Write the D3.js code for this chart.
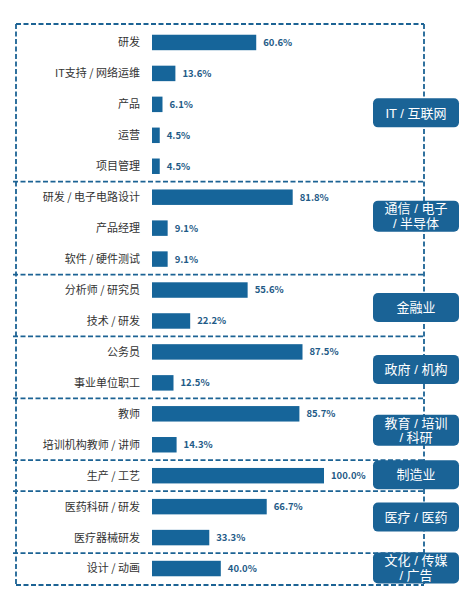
<!DOCTYPE html>
<meta charset="utf-8">
<style>
body {
  margin: 0;
  background: #fff;
  font-family: "Noto Sans CJK SC", sans-serif;
}
.frame line {
  stroke: #1c6394;
  stroke-width: 1.8;
  stroke-dasharray: 5,2.5;
}
.boxlabel {
  font-family: "Liberation Sans", "Noto Sans CJK SC", sans-serif;
}
</style>
<svg width="460" height="598"></svg>
<script src="https://d3js.org/d3.v7.min.js"></script>
<script>
// data
var roles = ["研发", "IT支持 / 网络运维", "产品", "运营", "项目管理",
             "研发 / 电子电路设计", "产品经理", "软件 / 硬件测试",
             "分析师 / 研究员", "技术 / 研发",
             "公务员", "事业单位职工",
             "教师", "培训机构教师 / 讲师",
             "生产 / 工艺",
             "医药科研 / 研发", "医疗器械研发",
             "设计 / 动画"];
var values = [60.6, 13.6, 6.1, 4.5, 4.5,
              81.8, 9.1, 9.1,
              55.6, 22.2,
              87.5, 12.5,
              85.7, 14.3,
              100.0,
              66.7, 33.3,
              40.0];
var roleGroup = [0, 0, 0, 0, 0, 1, 1, 1, 2, 2, 3, 3, 4, 4, 5, 6, 6, 7];
var groupLines = [["IT / 互联网"],
                  ["通信 / 电子", "/ 半导体"],
                  ["金融业"],
                  ["政府 / 机构"],
                  ["教育 / 培训", "/ 科研"],
                  ["制造业"],
                  ["医疗 / 医药"],
                  ["文化 / 传媒", "/ 广告"]];

// layout
var frameTop = 24, frameBottom = 585, frameLeft = 16, frameRight = 424;
var boxNudge = [10, -12, 2, 2, 1, -1, -5, -1];
var blue = "#16659a";

var svg = d3.select("svg");

var x = d3.scaleLinear()
    .domain([0, 100])
    .range([152, 324]);

var y = d3.scaleBand()
    .domain(roles)
    .range([27, 584])
    .paddingInner(0.5)
    .paddingOuter(0.25);

var step = y.step();

// group boundaries (between bars)
var groupIds = d3.range(groupLines.length);
var bounds = groupIds.map(function(g) {
  var idx = roles.filter(function(r, i) { return roleGroup[i] === g; });
  var first = idx[0], last = idx[idx.length - 1];
  var top = g === 0 ? frameTop : y(first) - step * 0.25;
  var bottom = g === groupIds.length - 1 ? frameBottom : y(last) + y.bandwidth() + step * 0.25;
  return [top, bottom];
});

// dashed frame
var frame = svg.append("g").attr("class", "frame");
frame.append("line")
    .attr("x1", frameLeft).attr("x2", frameLeft)
    .attr("y1", frameTop).attr("y2", frameBottom);
frame.append("line")
    .attr("x1", frameRight).attr("x2", frameRight)
    .attr("y1", frameTop).attr("y2", frameBottom);
frame.append("line")
    .attr("x1", frameLeft).attr("x2", frameRight)
    .attr("y1", frameTop).attr("y2", frameTop);
frame.selectAll(".sep")
    .data(bounds)
  .enter().append("line")
    .attr("class", "sep")
    .attr("x1", function(d, i) { return i === bounds.length - 1 ? frameLeft : 13; })
    .attr("x2", frameRight)
    .attr("y1", function(d) { return d[1]; })
    .attr("y2", function(d) { return d[1]; });

// bars
svg.append("g")
  .selectAll("rect")
  .data(values)
  .enter().append("rect")
    .attr("x", x(0))
    .attr("y", function(d, i) { return y(roles[i]); })
    .attr("width", function(d) { return x(d) - x(0); })
    .attr("height", y.bandwidth())
    .attr("fill", blue);

// value labels
svg.append("g")
  .selectAll("text")
  .data(values)
  .enter().append("text")
    .attr("x", function(d) { return x(d) + 7; })
    .attr("y", function(d, i) { return y(roles[i]) + y.bandwidth() / 2; })
    .attr("dy", "0.36em")
    .attr("fill", "#1f5b87")
    .attr("font-size", "9.5px")
    .attr("font-weight", "bold")
    .text(function(d) { return d3.format(".1f")(d) + "%"; });

// category labels
svg.append("g")
  .selectAll("text")
  .data(roles)
  .enter().append("text")
    .attr("x", 140)
    .attr("y", function(d) { return y(d) + y.bandwidth() / 2; })
    .attr("dy", "0.36em")
    .attr("text-anchor", "end")
    .attr("fill", "#333")
    .attr("font-size", "11px")
    .text(function(d) { return d; });

// group boxes on the right
var box = svg.append("g")
  .selectAll("g")
  .data(groupIds)
  .enter().append("g")
    .attr("transform", function(g) {
      var cy = (bounds[g][0] + bounds[g][1]) / 2 + boxNudge[g];
      return "translate(416," + cy + ")";
    });

box.append("rect")
    .attr("x", -43)
    .attr("y", function(g) { return groupLines[g].length > 1 ? -15.5 : -14.5; })
    .attr("width", 86)
    .attr("height", function(g) { return groupLines[g].length > 1 ? 31 : 29; })
    .attr("rx", 5)
    .attr("fill", "#1a6396");

// one text per box, lines as tspans
box.append("text")
    .attr("class", "boxlabel")
    .attr("text-anchor", "middle")
    .attr("fill", "#fff")
    .attr("font-size", "13px")
  .selectAll("tspan")
    .data(function(g) {
      var n = groupLines[g].length;
      return groupLines[g].map(function(t, k) { return {t: t, k: k, n: n}; });
    })
  .enter().append("tspan")
    .attr("x", 0)
    .attr("y", function(d) { return (d.k - (d.n - 1) / 2) * 14.8; })
    .attr("dy", "0.36em")
    .text(function(d) { return d.t; });
</script>
